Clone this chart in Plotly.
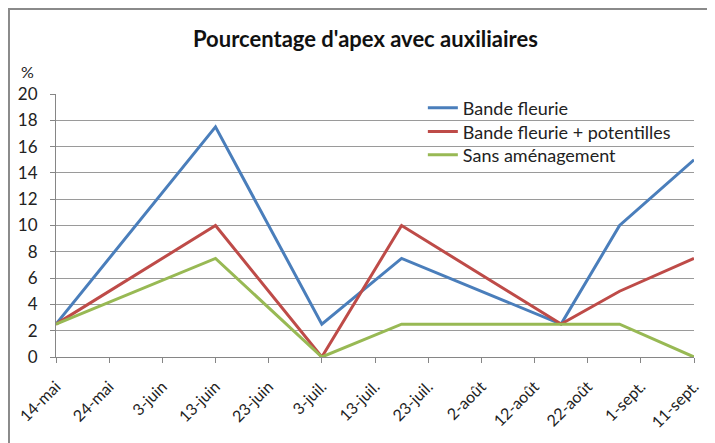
import plotly.graph_objects as go

# ---- data ----
dates = ["2010-05-14", "2010-06-13", "2010-07-03", "2010-07-18",
         "2010-08-17", "2010-08-28", "2010-09-11"]
bande_fleurie = [2.5, 17.5, 2.5, 7.5, 2.5, 10, 15]
bande_potentilles = [2.5, 10, 0, 10, 2.5, 5, 7.5]
sans_amenagement = [2.5, 7.5, 0, 2.5, 2.5, 2.5, 0]

tick_dates = ["2010-05-14", "2010-05-24", "2010-06-03", "2010-06-13",
              "2010-06-23", "2010-07-03", "2010-07-13", "2010-07-23",
              "2010-08-02", "2010-08-12", "2010-08-22", "2010-09-01",
              "2010-09-11"]
tick_labels = ["14-mai", "24-mai", "3-juin", "13-juin", "23-juin", "3-juil.",
               "13-juil.", "23-juil.", "2-août", "12-août", "22-août",
               "1-sept.", "11-sept."]
y_ticks = list(range(0, 21, 2))

FONT = "Lato"
TXT = "#222222"

fig = go.Figure()
series = [
    ("Bande fleurie", bande_fleurie, "#4A7EBB", "legend"),
    ("Bande fleurie + potentilles", bande_potentilles, "#BE4B48", "legend2"),
    ("Sans aménagement", sans_amenagement, "#98B954", "legend3"),
]
for name, vals, col, lg in series:
    fig.add_trace(go.Scatter(
        x=dates, y=vals, mode="lines", name=name,
        line=dict(color=col, width=3), legend=lg,
    ))

def leg(y):
    return dict(x=0.575, y=y, xanchor="left", yanchor="middle",
                bgcolor="rgba(255,255,255,0)",
                font=dict(family=FONT, size=18, color=TXT))

fig.update_layout(
    width=715, height=443,
    margin=dict(l=48, r=29, t=86, b=94),
    paper_bgcolor="white", plot_bgcolor="white",
    font=dict(family=FONT, size=15, color=TXT),
    title=dict(text="<b>Pourcentage d'apex avec auxiliaires</b>",
               x=0.485, xref="paper", xanchor="center",
               y=0.93, yref="container", yanchor="middle",
               font=dict(family=FONT, size=22, color="#111111")),
    showlegend=True,
    legend=leg(0.947), legend2=leg(0.856), legend3=leg(0.768),
    xaxis=dict(
        type="date", range=["2010-05-14", "2010-09-11"],
        tickvals=tick_dates, ticktext=tick_labels, tickangle=-45,
        ticks="outside", ticklen=5, tickcolor="#868686",
        showline=True, linecolor="#868686", linewidth=1,
        showgrid=False, zeroline=False, automargin=False,
        ticklabelstandoff=8,
        tickfont=dict(family=FONT, size=16, color=TXT),
    ),
    yaxis=dict(
        range=[0, 20], tickvals=y_ticks,
        ticks="outside", ticklen=5, tickcolor="#868686",
        showline=True, linecolor="#868686", linewidth=1,
        showgrid=True, gridcolor="#9a9a9a", gridwidth=1,
        zeroline=False, automargin=False, ticklabelstandoff=9,
        tickfont=dict(family=FONT, size=17, color=TXT),
    ),
    annotations=[dict(text="%", x=-0.044, y=1.084, xref="paper", yref="paper",
                      showarrow=False, xanchor="center", yanchor="middle",
                      font=dict(family=FONT, size=16, color=TXT))],
    shapes=[dict(type="rect", xref="paper", yref="paper",
                 x0=-0.0737, x1=1.1, y0=-0.45, y1=1.323,
                 line=dict(color="#8a8a8a", width=2), layer="below")],
)

fig.write_html("out.html")
